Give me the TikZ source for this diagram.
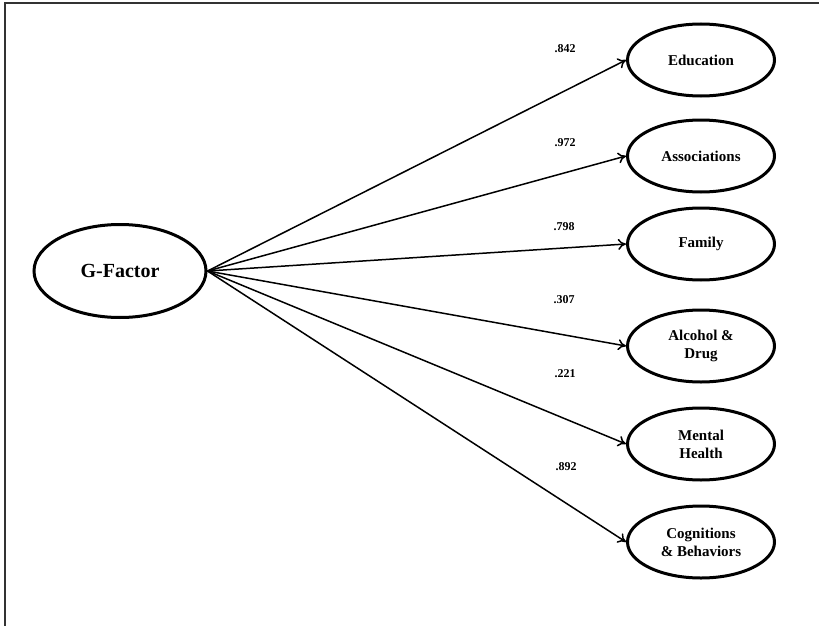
\documentclass[tikz,border=0pt]{standalone}
\usepackage{fontspec}
\setmainfont{Liberation Serif}
\usetikzlibrary{shapes.geometric,arrows.meta}

\begin{document}
\begin{tikzpicture}[x=1pt,y=-1pt,>={To[length=8pt,width=11pt]},line width=1.5pt,
    factor node/.style={ellipse,draw,line width=3pt,minimum width=172pt,minimum height=93pt,font=\bfseries\fontsize{20}{24}\selectfont},
    item node/.style={ellipse,draw,line width=3pt,minimum width=147pt,minimum height=72pt,align=center,font=\bfseries\fontsize{15}{18}\selectfont},
    load/.style={font=\bfseries\fontsize{12}{14}\selectfont}]
                \useasboundingbox (0,0) rectangle (819,626);
                \draw[black!80] (5,626) -- (5,3) -- (819,3);

                \node[factor node] (g) at (120,271) {G-Factor};
                \node[item node] (edu) at (701,60) {Education};
                \node[item node] (assoc) at (701,156) {Associations};
                \node[item node] (fam) at (701,244) {Family};
                \node[item node] (alc) at (701,346) {Alcohol \&\\Drug};
                \node[item node] (ment) at (701,444) {Mental\\Health};
                \node[item node] (cogn) at (701,542) {Cognitions\\\& Behaviors};

                \node[load] (w842) at (565,49) {.842};
                \node[load] (w972) at (565,143) {.972};
                \node[load] (w798) at (564,227) {.798};
                \node[load] (w307) at (564,300) {.307};
                \node[load] (w221) at (565,374) {.221};
                \node[load] (w892) at (566,467) {.892};

                \path[->]
                    (g.east) edge (edu.west)
                    (g.east) edge (assoc.west)
                    (g.east) edge (fam.west)
                    (g.east) edge (alc.west)
                    (g.east) edge (ment.west)
                    (g.east) edge (cogn.west)
                ;
\end{tikzpicture}
\end{document}
